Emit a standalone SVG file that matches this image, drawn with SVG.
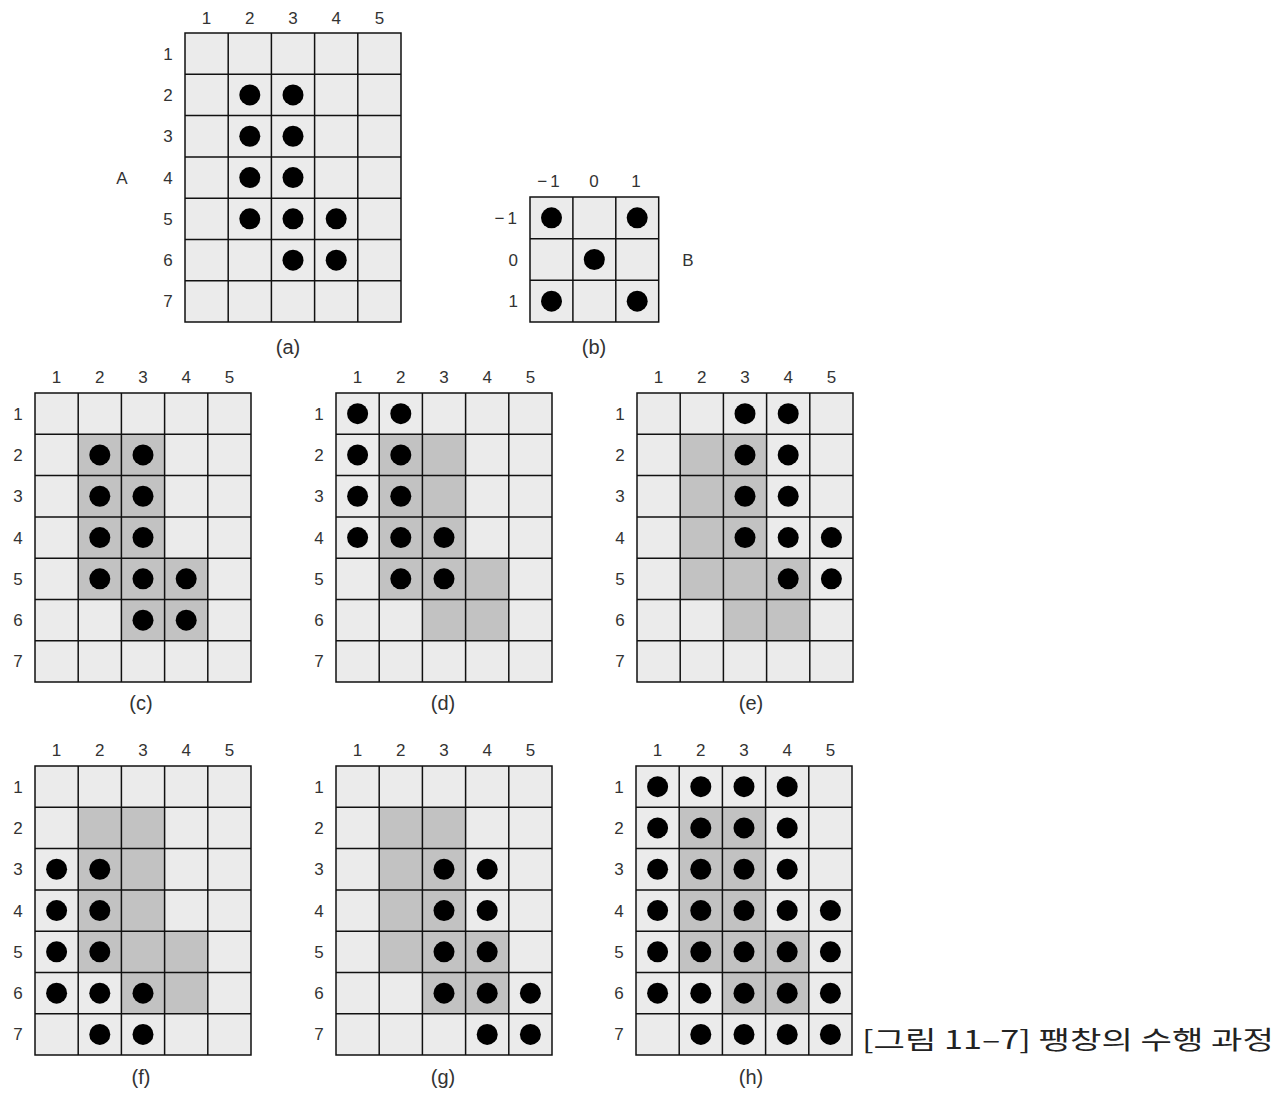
<svg xmlns="http://www.w3.org/2000/svg" xmlns:xlink="http://www.w3.org/1999/xlink" width="1280" height="1093" viewBox="0 0 1280 1093">
<style>
.bg{fill:#ebebeb}
.sh{fill:#c2c2c2}
.ln{fill:none;stroke:#111;stroke-width:1.5}
.d{fill:#000}
.t{font-family:"Liberation Sans",Arial,sans-serif;font-size:17px;fill:#333;text-anchor:middle}
.c{font-family:"Liberation Sans",Arial,sans-serif;font-size:20px;fill:#333;text-anchor:middle}
.r{text-anchor:end}
.m{letter-spacing:3px}
.cap{font-family:"Noto Sans CJK KR","Liberation Sans",sans-serif;font-size:25px;fill:#222}
</style>
<defs>
<rect id="bg" class="bg" x="0" y="0" width="216" height="289.1"/>
<polygon id="shade" class="sh" points="43.2,41.3 129.6,41.3 129.6,165.2 172.8,165.2 172.8,247.8 86.4,247.8 86.4,206.5 43.2,206.5"/>
<path id="lines" class="ln" d="M0,0H216V289.1H0Z M43.2,0V289.1 M86.4,0V289.1 M129.6,0V289.1 M172.8,0V289.1 M0,41.3H216 M0,82.6H216 M0,123.9H216 M0,165.2H216 M0,206.5H216 M0,247.8H216"/>
</defs>
<rect width="1280" height="1093" fill="#fff"/>

<g id="grid-a" transform="translate(185,33)">
<use xlink:href="#bg" href="#bg"/>
<use xlink:href="#lines" href="#lines"/>
<circle class="d" cx="64.8" cy="61.95" r="10.5"/><circle class="d" cx="108" cy="61.95" r="10.5"/>
<circle class="d" cx="64.8" cy="103.25" r="10.5"/><circle class="d" cx="108" cy="103.25" r="10.5"/>
<circle class="d" cx="64.8" cy="144.55" r="10.5"/><circle class="d" cx="108" cy="144.55" r="10.5"/>
<circle class="d" cx="64.8" cy="185.85" r="10.5"/><circle class="d" cx="108" cy="185.85" r="10.5"/><circle class="d" cx="151.2" cy="185.85" r="10.5"/>
<circle class="d" cx="108" cy="227.15" r="10.5"/><circle class="d" cx="151.2" cy="227.15" r="10.5"/>
<text class="t" x="21.6" y="-9">1</text><text class="t" x="64.8" y="-9">2</text><text class="t" x="108" y="-9">3</text><text class="t" x="151.2" y="-9">4</text><text class="t" x="194.4" y="-9">5</text>
<text class="t" x="-17" y="26.6">1</text><text class="t" x="-17" y="67.9">2</text><text class="t" x="-17" y="109.2">3</text><text class="t" x="-17" y="150.5">4</text><text class="t" x="-17" y="191.8">5</text><text class="t" x="-17" y="233.1">6</text><text class="t" x="-17" y="274.4">7</text>
<text class="t" x="-63" y="150.5">A</text>
<text class="c" x="103" y="321">(a)</text>
</g>

<g id="grid-b" transform="translate(530,197)">
<rect class="bg" x="0" y="0" width="128.7" height="125"/>
<path class="ln" d="M0,0H128.7V125H0Z M42.9,0V125 M85.8,0V125 M0,41.7H128.7 M0,83.3H128.7"/>
<circle class="d" cx="21.5" cy="20.8" r="10.5"/><circle class="d" cx="107.2" cy="20.8" r="10.5"/>
<circle class="d" cx="64.3" cy="62.5" r="10.5"/>
<circle class="d" cx="21.5" cy="104.2" r="10.5"/><circle class="d" cx="107.2" cy="104.2" r="10.5"/>
<text class="t m" x="20" y="-10">−1</text><text class="t" x="64" y="-10">0</text><text class="t" x="106" y="-10">1</text>
<text class="t r m" x="-10" y="26.8">−1</text><text class="t r" x="-12" y="68.5">0</text><text class="t r" x="-12" y="110.2">1</text>
<text class="t" x="158" y="68.5">B</text>
<text class="c" x="64" y="157">(b)</text>
</g>

<g id="grid-c" transform="translate(35,393)">
<use xlink:href="#bg" href="#bg"/>
<use xlink:href="#shade" href="#shade"/>
<use xlink:href="#lines" href="#lines"/>
<circle class="d" cx="64.8" cy="61.95" r="10.5"/><circle class="d" cx="108" cy="61.95" r="10.5"/>
<circle class="d" cx="64.8" cy="103.25" r="10.5"/><circle class="d" cx="108" cy="103.25" r="10.5"/>
<circle class="d" cx="64.8" cy="144.55" r="10.5"/><circle class="d" cx="108" cy="144.55" r="10.5"/>
<circle class="d" cx="64.8" cy="185.85" r="10.5"/><circle class="d" cx="108" cy="185.85" r="10.5"/><circle class="d" cx="151.2" cy="185.85" r="10.5"/>
<circle class="d" cx="108" cy="227.15" r="10.5"/><circle class="d" cx="151.2" cy="227.15" r="10.5"/>
<text class="t" x="21.6" y="-10">1</text><text class="t" x="64.8" y="-10">2</text><text class="t" x="108" y="-10">3</text><text class="t" x="151.2" y="-10">4</text><text class="t" x="194.4" y="-10">5</text>
<text class="t" x="-17" y="26.6">1</text><text class="t" x="-17" y="67.9">2</text><text class="t" x="-17" y="109.2">3</text><text class="t" x="-17" y="150.5">4</text><text class="t" x="-17" y="191.8">5</text><text class="t" x="-17" y="233.1">6</text><text class="t" x="-17" y="274.4">7</text>
<text class="c" x="106" y="317">(c)</text>
</g>

<g id="grid-d" transform="translate(336,393)">
<use xlink:href="#bg" href="#bg"/>
<use xlink:href="#shade" href="#shade"/>
<use xlink:href="#lines" href="#lines"/>
<circle class="d" cx="21.6" cy="20.65" r="10.5"/><circle class="d" cx="64.8" cy="20.65" r="10.5"/>
<circle class="d" cx="21.6" cy="61.95" r="10.5"/><circle class="d" cx="64.8" cy="61.95" r="10.5"/>
<circle class="d" cx="21.6" cy="103.25" r="10.5"/><circle class="d" cx="64.8" cy="103.25" r="10.5"/>
<circle class="d" cx="21.6" cy="144.55" r="10.5"/><circle class="d" cx="64.8" cy="144.55" r="10.5"/><circle class="d" cx="108" cy="144.55" r="10.5"/>
<circle class="d" cx="64.8" cy="185.85" r="10.5"/><circle class="d" cx="108" cy="185.85" r="10.5"/>
<text class="t" x="21.6" y="-10">1</text><text class="t" x="64.8" y="-10">2</text><text class="t" x="108" y="-10">3</text><text class="t" x="151.2" y="-10">4</text><text class="t" x="194.4" y="-10">5</text>
<text class="t" x="-17" y="26.6">1</text><text class="t" x="-17" y="67.9">2</text><text class="t" x="-17" y="109.2">3</text><text class="t" x="-17" y="150.5">4</text><text class="t" x="-17" y="191.8">5</text><text class="t" x="-17" y="233.1">6</text><text class="t" x="-17" y="274.4">7</text>
<text class="c" x="107" y="317">(d)</text>
</g>

<g id="grid-e" transform="translate(637,393)">
<use xlink:href="#bg" href="#bg"/>
<use xlink:href="#shade" href="#shade"/>
<use xlink:href="#lines" href="#lines"/>
<circle class="d" cx="108" cy="20.65" r="10.5"/><circle class="d" cx="151.2" cy="20.65" r="10.5"/>
<circle class="d" cx="108" cy="61.95" r="10.5"/><circle class="d" cx="151.2" cy="61.95" r="10.5"/>
<circle class="d" cx="108" cy="103.25" r="10.5"/><circle class="d" cx="151.2" cy="103.25" r="10.5"/>
<circle class="d" cx="108" cy="144.55" r="10.5"/><circle class="d" cx="151.2" cy="144.55" r="10.5"/><circle class="d" cx="194.4" cy="144.55" r="10.5"/>
<circle class="d" cx="151.2" cy="185.85" r="10.5"/><circle class="d" cx="194.4" cy="185.85" r="10.5"/>
<text class="t" x="21.6" y="-10">1</text><text class="t" x="64.8" y="-10">2</text><text class="t" x="108" y="-10">3</text><text class="t" x="151.2" y="-10">4</text><text class="t" x="194.4" y="-10">5</text>
<text class="t" x="-17" y="26.6">1</text><text class="t" x="-17" y="67.9">2</text><text class="t" x="-17" y="109.2">3</text><text class="t" x="-17" y="150.5">4</text><text class="t" x="-17" y="191.8">5</text><text class="t" x="-17" y="233.1">6</text><text class="t" x="-17" y="274.4">7</text>
<text class="c" x="114" y="317">(e)</text>
</g>

<g id="grid-f" transform="translate(35,766)">
<use xlink:href="#bg" href="#bg"/>
<use xlink:href="#shade" href="#shade"/>
<use xlink:href="#lines" href="#lines"/>
<circle class="d" cx="21.6" cy="103.25" r="10.5"/><circle class="d" cx="64.8" cy="103.25" r="10.5"/>
<circle class="d" cx="21.6" cy="144.55" r="10.5"/><circle class="d" cx="64.8" cy="144.55" r="10.5"/>
<circle class="d" cx="21.6" cy="185.85" r="10.5"/><circle class="d" cx="64.8" cy="185.85" r="10.5"/>
<circle class="d" cx="21.6" cy="227.15" r="10.5"/><circle class="d" cx="64.8" cy="227.15" r="10.5"/><circle class="d" cx="108" cy="227.15" r="10.5"/>
<circle class="d" cx="64.8" cy="268.45" r="10.5"/><circle class="d" cx="108" cy="268.45" r="10.5"/>
<text class="t" x="21.6" y="-10">1</text><text class="t" x="64.8" y="-10">2</text><text class="t" x="108" y="-10">3</text><text class="t" x="151.2" y="-10">4</text><text class="t" x="194.4" y="-10">5</text>
<text class="t" x="-17" y="26.6">1</text><text class="t" x="-17" y="67.9">2</text><text class="t" x="-17" y="109.2">3</text><text class="t" x="-17" y="150.5">4</text><text class="t" x="-17" y="191.8">5</text><text class="t" x="-17" y="233.1">6</text><text class="t" x="-17" y="274.4">7</text>
<text class="c" x="106" y="318">(f)</text>
</g>

<g id="grid-g" transform="translate(336,766)">
<use xlink:href="#bg" href="#bg"/>
<use xlink:href="#shade" href="#shade"/>
<use xlink:href="#lines" href="#lines"/>
<circle class="d" cx="108" cy="103.25" r="10.5"/><circle class="d" cx="151.2" cy="103.25" r="10.5"/>
<circle class="d" cx="108" cy="144.55" r="10.5"/><circle class="d" cx="151.2" cy="144.55" r="10.5"/>
<circle class="d" cx="108" cy="185.85" r="10.5"/><circle class="d" cx="151.2" cy="185.85" r="10.5"/>
<circle class="d" cx="108" cy="227.15" r="10.5"/><circle class="d" cx="151.2" cy="227.15" r="10.5"/><circle class="d" cx="194.4" cy="227.15" r="10.5"/>
<circle class="d" cx="151.2" cy="268.45" r="10.5"/><circle class="d" cx="194.4" cy="268.45" r="10.5"/>
<text class="t" x="21.6" y="-10">1</text><text class="t" x="64.8" y="-10">2</text><text class="t" x="108" y="-10">3</text><text class="t" x="151.2" y="-10">4</text><text class="t" x="194.4" y="-10">5</text>
<text class="t" x="-17" y="26.6">1</text><text class="t" x="-17" y="67.9">2</text><text class="t" x="-17" y="109.2">3</text><text class="t" x="-17" y="150.5">4</text><text class="t" x="-17" y="191.8">5</text><text class="t" x="-17" y="233.1">6</text><text class="t" x="-17" y="274.4">7</text>
<text class="c" x="107" y="318">(g)</text>
</g>

<g id="grid-h" transform="translate(636,766)">
<use xlink:href="#bg" href="#bg"/>
<use xlink:href="#shade" href="#shade"/>
<use xlink:href="#lines" href="#lines"/>
<circle class="d" cx="21.6" cy="20.65" r="10.5"/><circle class="d" cx="64.8" cy="20.65" r="10.5"/><circle class="d" cx="108" cy="20.65" r="10.5"/><circle class="d" cx="151.2" cy="20.65" r="10.5"/>
<circle class="d" cx="21.6" cy="61.95" r="10.5"/><circle class="d" cx="64.8" cy="61.95" r="10.5"/><circle class="d" cx="108" cy="61.95" r="10.5"/><circle class="d" cx="151.2" cy="61.95" r="10.5"/>
<circle class="d" cx="21.6" cy="103.25" r="10.5"/><circle class="d" cx="64.8" cy="103.25" r="10.5"/><circle class="d" cx="108" cy="103.25" r="10.5"/><circle class="d" cx="151.2" cy="103.25" r="10.5"/>
<circle class="d" cx="21.6" cy="144.55" r="10.5"/><circle class="d" cx="64.8" cy="144.55" r="10.5"/><circle class="d" cx="108" cy="144.55" r="10.5"/><circle class="d" cx="151.2" cy="144.55" r="10.5"/><circle class="d" cx="194.4" cy="144.55" r="10.5"/>
<circle class="d" cx="21.6" cy="185.85" r="10.5"/><circle class="d" cx="64.8" cy="185.85" r="10.5"/><circle class="d" cx="108" cy="185.85" r="10.5"/><circle class="d" cx="151.2" cy="185.85" r="10.5"/><circle class="d" cx="194.4" cy="185.85" r="10.5"/>
<circle class="d" cx="21.6" cy="227.15" r="10.5"/><circle class="d" cx="64.8" cy="227.15" r="10.5"/><circle class="d" cx="108" cy="227.15" r="10.5"/><circle class="d" cx="151.2" cy="227.15" r="10.5"/><circle class="d" cx="194.4" cy="227.15" r="10.5"/>
<circle class="d" cx="64.8" cy="268.45" r="10.5"/><circle class="d" cx="108" cy="268.45" r="10.5"/><circle class="d" cx="151.2" cy="268.45" r="10.5"/><circle class="d" cx="194.4" cy="268.45" r="10.5"/>
<text class="t" x="21.6" y="-10">1</text><text class="t" x="64.8" y="-10">2</text><text class="t" x="108" y="-10">3</text><text class="t" x="151.2" y="-10">4</text><text class="t" x="194.4" y="-10">5</text>
<text class="t" x="-17" y="26.6">1</text><text class="t" x="-17" y="67.9">2</text><text class="t" x="-17" y="109.2">3</text><text class="t" x="-17" y="150.5">4</text><text class="t" x="-17" y="191.8">5</text><text class="t" x="-17" y="233.1">6</text><text class="t" x="-17" y="274.4">7</text>
<text class="c" x="115" y="318">(h)</text>
</g>

<g id="connectors"/>

<g id="title">
<text class="cap" x="862" y="1049" textLength="412" lengthAdjust="spacingAndGlyphs">[그림 11–7] 팽창의 수행 과정</text>
</g>
</svg>
